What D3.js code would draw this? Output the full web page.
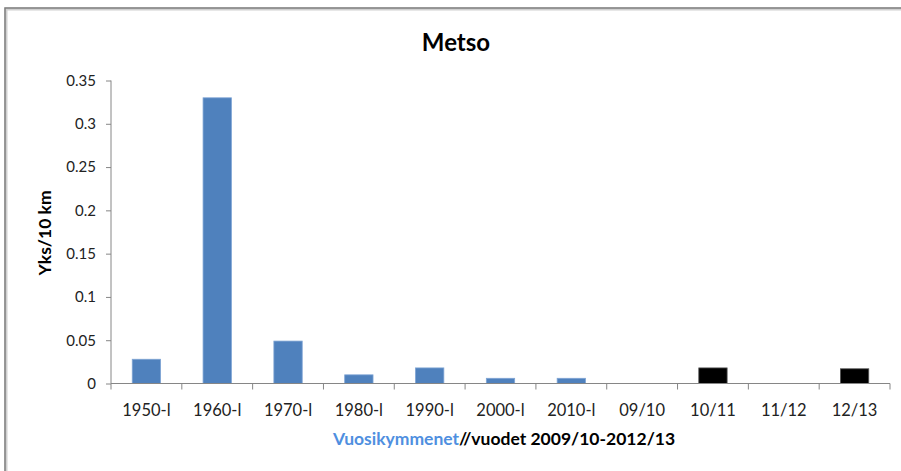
<!DOCTYPE html>
<html><head><meta charset="utf-8">
<script src="https://cdn.jsdelivr.net/npm/d3@7"></script>
<style>
body{margin:0;background:#fff;}
svg{display:block;}
text{font-family:Lato, "Open Sans", sans-serif;}
</style></head>
<body>
<svg id="c" width="901" height="471"></svg>
<script>
const categories = ["1950-l","1960-l","1970-l","1980-l","1990-l","2000-l","2010-l","09/10","10/11","11/12","12/13"];
const values = [0.028,0.33,0.049,0.01,0.018,0.006,0.006,0,0.018,0,0.017];
const barKinds = ["decade","decade","decade","decade","decade","decade","decade","year","year","year","year"];
const yTicks = [0,0.05,0.1,0.15,0.2,0.25,0.3,0.35];
const title = "Metso";
const yTitle = "Yks/10 km";
const xTitleBlue = "Vuosikymmenet";
const xTitleBlack = "//vuodet 2009/10-2012/13";

const svg = d3.select("#c");
// frame
svg.append("path").attr("d","M6,471V9H901").attr("fill","none").attr("stroke","#d0d0d0").attr("stroke-width",3);
svg.append("path").attr("d","M5,471V8H901").attr("fill","none").attr("stroke","#7f7f7f").attr("stroke-width",1.5);

const x = d3.scaleBand().domain(categories).range([111,890]).paddingInner(0.6).paddingOuter(0.3);
const y = d3.scaleLinear().domain([0,0.35]).range([383.5,80.5]);
const color = d => d==="decade" ? "#4F81BD" : "#000000";

svg.append("text").attr("x",456).attr("y",51).attr("text-anchor","middle")
  .attr("font-size",24).attr("font-weight","bold").attr("fill","#000").text(title);

// y axis
const yAxis = svg.append("g").attr("transform","translate(111,0)")
  .call(d3.axisLeft(y).tickValues(yTicks).tickSize(5).tickPadding(10).tickFormat(d=>d3.format("")(+d.toFixed(2))));
yAxis.select(".domain").attr("stroke","#868686").attr("d","M0,"+y(0.35)+"V"+y(0));
yAxis.selectAll(".tick line").attr("stroke","#868686");
yAxis.selectAll(".tick text").attr("font-size",15).attr("fill","#222").attr("font-family","Lato, sans-serif");

// bars
svg.append("g").selectAll("rect").data(categories).join("rect")
  .attr("x",d=>x(d)).attr("width",x.bandwidth())
  .attr("y",(d,i)=>y(values[i])).attr("height",(d,i)=>y(0)-y(values[i]))
  .attr("fill",(d,i)=>color(barKinds[i]))
  .attr("stroke",(d,i)=>barKinds[i]==="decade"?"#7ea4d4":"#555").attr("stroke-width",0.8)
  .attr("display",(d,i)=>values[i]>0?null:"none");

// x axis
const xAxisG = svg.append("g").attr("transform","translate(0,"+y(0)+")");
xAxisG.append("line").attr("x1",111).attr("x2",890).attr("stroke","#868686");
const step = x.step();
const bounds = d3.range(categories.length+1).map(i=>111+i*step);
xAxisG.selectAll(".tk").data(bounds).join("line").attr("class","tk")
  .attr("x1",d=>d).attr("x2",d=>d).attr("y1",0).attr("y2",6).attr("stroke","#868686");
xAxisG.selectAll(".lb").data(categories).join("text").attr("class","lb")
  .attr("x",d=>x(d)+x.bandwidth()/2).attr("y",32).attr("text-anchor","middle")
  .attr("font-size",16.5).attr("fill","#222").text(d=>d);

// axis titles
svg.append("text").attr("transform","translate(51,233) rotate(-90)").attr("text-anchor","middle")
  .attr("font-size",17.5).attr("font-weight","bold").attr("fill","#000").text(yTitle);
const xt = svg.append("text").attr("x",504).attr("y",445).attr("text-anchor","middle")
  .attr("font-size",17.5).attr("font-weight","bold");
xt.append("tspan").attr("fill","#4F8FE0").text(xTitleBlue);
xt.append("tspan").attr("fill","#000").text(xTitleBlack);
</script>
</body></html>
